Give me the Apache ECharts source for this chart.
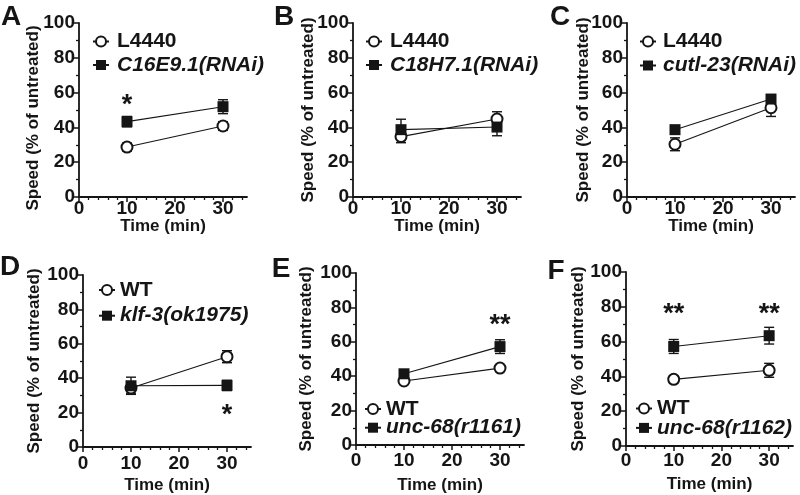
<!DOCTYPE html>
<html><head><meta charset="utf-8">
<script src="https://cdn.jsdelivr.net/npm/echarts@6/dist/echarts.min.js"></script>
<style>html,body{margin:0;padding:0;background:#fff}#c{width:800px;height:495px}</style>
</head><body><div id="c"></div>
<script>
// ---------- data ----------
const timePoints = [10, 30];
const panelLetters = ['A', 'B', 'C', 'D', 'E', 'F'];
const controlNames = ['L4440', 'L4440', 'L4440', 'WT', 'WT', 'WT'];
const testNames = ['C16E9.1(RNAi)', 'C18H7.1(RNAi)', 'cutl-23(RNAi)', 'klf-3(ok1975)', 'unc-68(r1161)', 'unc-68(r1162)'];

const ctrlA = [28.7, 40.8], ctrlErrA = [2.3, 2.5];
const testA = [43.3, 51.9], testErrA = [3.0, 4.0];
const ctrlB = [34.7, 44.8], ctrlErrB = [3.5, 4.2];
const testB = [38.7, 40.2], testErrB = [6.0, 5.0];
const ctrlC = [30.3, 51.3], ctrlErrC = [3.7, 5.0];
const testC = [38.7, 56.3], testErrC = [1.5, 1.5];
const ctrlD = [34.3, 52.5], ctrlErrD = [3.0, 3.5];
const testD = [35.6, 35.8], testErrD = [5.0, 3.0];
const ctrlE = [37.2, 44.7], ctrlErrE = [1.5, 1.5];
const testE = [41.4, 57.2], testErrE = [1.5, 4.0];
const ctrlF = [38.3, 43.5], ctrlErrF = [2.0, 4.0];
const testF = [57.2, 63.4], testErrF = [4.0, 4.8];

// significance marks: [time, y, text]
const sigA = [[10, 56, '*']];
const sigB = [];
const sigC = [];
const sigD = [[30, 21.8, '*']];
const sigE = [[30, 72.8, '**']];
const sigF = [[10, 78.8, '**'], [30, 78.8, '**']];

const xMajorTicks = [0, 10, 20, 30];
const xMinorTicks = [2, 4, 6, 8, 12, 14, 16, 18, 22, 24, 26, 28, 32, 34];
const xMax = 35;
const yMax = 100, yInterval = 20;

const ctrl = [ctrlA, ctrlB, ctrlC, ctrlD, ctrlE, ctrlF];
const ctrlErr = [ctrlErrA, ctrlErrB, ctrlErrC, ctrlErrD, ctrlErrE, ctrlErrF];
const test = [testA, testB, testC, testD, testE, testF];
const testErr = [testErrA, testErrB, testErrC, testErrD, testErrE, testErrF];
const sig = [sigA, sigB, sigC, sigD, sigE, sigF];

// ---------- layout ----------
const grids = [
  {left: 79, top: 23, width: 168, height: 174},
  {left: 353, top: 23, width: 168, height: 174},
  {left: 627, top: 23, width: 168, height: 174},
  {left: 83, top: 275, width: 168, height: 174},
  {left: 356, top: 273, width: 168, height: 174},
  {left: 626, top: 272, width: 167, height: 174}
];
const xLabelMargin = [2, 2, 2, 7, 6, 5];
const xNameGap = [21, 21, 21, 30, 32, 30];
const yNameGap = [37, 36, 35, 40, 41, 39];
const yNamePad = [[0, 16, 0, 0], 0, 0, 0, 0, 0];
const legendPos = [
  {left: 92, top: 31, gap: 2.5, pad: 3},
  {left: 365, top: 31, gap: 2.5, pad: 3},
  {left: 639, top: 31, gap: 3, pad: 2},
  {left: 98, top: 279.5, gap: 4.7, pad: 0},
  {left: 364, top: 398.5, gap: -2.3, pad: 0},
  {left: 635, top: 398, gap: -1.6, pad: 0}
];
const letterPos = [[11, 17], [284, 17], [560, 17], [10, 267], [281, 269], [556, 271]];

const FONT = '"Liberation Sans", Arial, Helvetica, sans-serif';
const INK = '#151515';

const option = {
  animation: false,
  backgroundColor: '#fff',
  grid: grids.map(g => Object.assign({containLabel: false}, g)),
  xAxis: [], yAxis: [], series: [], legend: [],
  graphic: panelLetters.map((L, i) => ({
    type: 'text', x: letterPos[i][0], y: letterPos[i][1],
    style: {text: L, font: 'bold 28px ' + FONT, fill: INK, align: 'center', verticalAlign: 'middle'}
  }))
};

function errRender(params, api) {
  const x = api.value(0);
  const lo = api.coord([x, api.value(1)]);
  const hi = api.coord([x, api.value(2)]);
  const w = 5;
  const st = {stroke: INK, lineWidth: 1.4};
  return {type: 'group', children: [
    {type: 'line', shape: {x1: lo[0], y1: lo[1], x2: hi[0], y2: hi[1]}, style: st},
    {type: 'line', shape: {x1: lo[0] - w, y1: lo[1], x2: lo[0] + w, y2: lo[1]}, style: st},
    {type: 'line', shape: {x1: hi[0] - w, y1: hi[1], x2: hi[0] + w, y2: hi[1]}, style: st}
  ]};
}

for (let i = 0; i < 6; i++) {
  option.xAxis.push({
    type: 'value', gridIndex: i, min: 0, max: xMax, position: 'bottom',
    name: 'Time (min)', nameLocation: 'middle', nameGap: xNameGap[i], nameMoveOverlap: false,
    nameTextStyle: {fontFamily: FONT, fontWeight: 'bold', fontSize: 17, color: INK},
    axisLine: {show: true, onZero: false, lineStyle: {color: INK, width: 1.8}},
    axisTick: {show: true, length: 5, customValues: xMajorTicks, lineStyle: {color: INK, width: 1.5}},
    axisLabel: {customValues: xMajorTicks, margin: xLabelMargin[i], fontFamily: FONT, fontWeight: 'bold', fontSize: 19, color: INK},
    splitLine: {show: false}
  });
  option.xAxis.push({
    type: 'value', gridIndex: i, min: 0, max: xMax, position: 'bottom',
    axisLine: {show: false, onZero: false},
    axisTick: {show: true, length: 3, customValues: xMinorTicks, lineStyle: {color: INK, width: 1.3}},
    axisLabel: {show: false},
    splitLine: {show: false}
  });
  option.yAxis.push({
    type: 'value', gridIndex: i, min: 0, max: yMax, interval: yInterval,
    name: 'Speed (% of untreated)', nameLocation: 'middle', nameGap: yNameGap[i], nameMoveOverlap: false,
    nameTextStyle: {fontFamily: FONT, fontWeight: 'bold', fontSize: 17, color: INK, padding: yNamePad[i]},
    axisLine: {show: true, lineStyle: {color: INK, width: 1.8}},
    axisTick: {show: true, length: 5, lineStyle: {color: INK, width: 1.5}},
    minorTick: {show: true, splitNumber: 2, length: 3, lineStyle: {color: INK, width: 1.3}},
    axisLabel: {margin: 4, fontFamily: FONT, fontWeight: 'bold', fontSize: 19, color: INK},
    splitLine: {show: false}
  });

  const xi = i * 2;
  option.series.push({
    type: 'custom', xAxisIndex: xi, yAxisIndex: i, z: 1, silent: true,
    encode: {x: 0, y: [1, 2]},
    data: timePoints.map((t, k) => [t, ctrl[i][k] - ctrlErr[i][k], ctrl[i][k] + ctrlErr[i][k]]),
    renderItem: errRender
  });
  option.series.push({
    type: 'custom', xAxisIndex: xi, yAxisIndex: i, z: 1, silent: true,
    encode: {x: 0, y: [1, 2]},
    data: timePoints.map((t, k) => [t, test[i][k] - testErr[i][k], test[i][k] + testErr[i][k]]),
    renderItem: errRender
  });
  option.series.push({
    type: 'line', name: controlNames[i], xAxisIndex: xi, yAxisIndex: i, z: 3,
    data: timePoints.map((t, k) => [t, ctrl[i][k]]),
    symbol: 'emptyCircle', symbolSize: 11, showAllSymbol: true,
    lineStyle: {color: INK, width: 1.1},
    itemStyle: {color: INK, borderColor: INK, borderWidth: 1.7}
  });
  option.series.push({
    type: 'line', name: testNames[i], xAxisIndex: xi, yAxisIndex: i, z: 4,
    data: timePoints.map((t, k) => [t, test[i][k]]),
    symbol: 'rect', symbolSize: 11,
    lineStyle: {color: INK, width: 1.1},
    itemStyle: {color: INK, borderColor: INK, borderWidth: 0}
  });
  if (sig[i].length) {
    option.series.push({
      type: 'scatter', xAxisIndex: xi, yAxisIndex: i, z: 5, silent: true,
      symbolSize: 0, itemStyle: {opacity: 1, color: INK},
      data: sig[i].map(s => ({value: [s[0], s[1]], label: {formatter: s[2]}})),
      label: {show: true, position: 'inside', offset: [0, 6], fontFamily: FONT, fontWeight: 'bold', fontSize: 27, color: INK, opacity: 1}
    });
  }
  const lp = legendPos[i];
  option.legend.push({
    orient: 'vertical', left: lp.left, top: lp.top, itemGap: lp.gap,
    itemWidth: 16, itemHeight: 12.5, padding: 0, selectedMode: false,
    textStyle: {fontFamily: FONT, fontWeight: 'bold', fontSize: 21, color: INK, padding: [0, 0, 0, lp.pad]},
    data: [
      {name: controlNames[i]},
      {name: testNames[i], textStyle: {fontStyle: 'italic'}}
    ]
  });
}

const chart = echarts.init(document.getElementById('c'), null, {renderer: 'canvas'});
chart.setOption(option);
</script>
</body></html>
